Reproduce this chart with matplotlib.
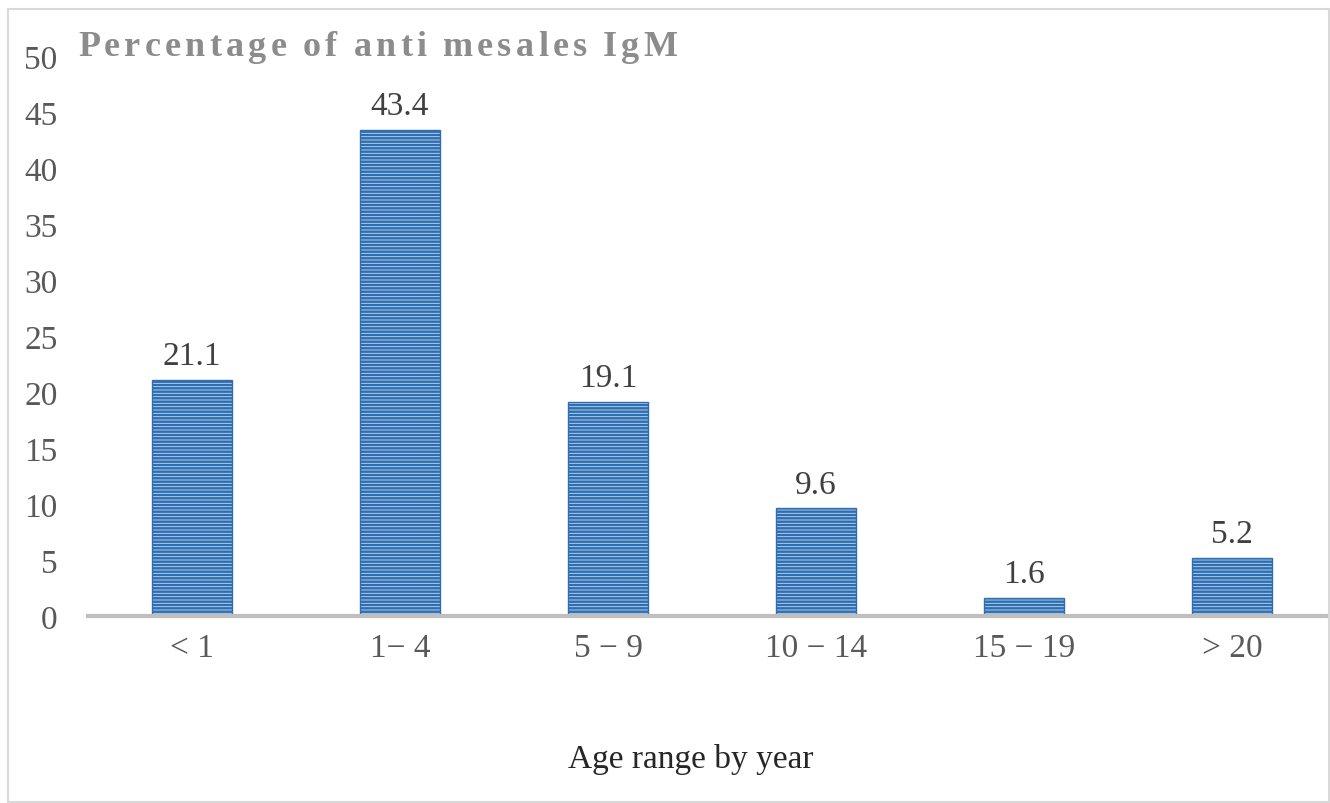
import matplotlib.pyplot as plt
from matplotlib.patches import Rectangle

# Anti-measles IgM positives by age group
age_groups = ["< 1", "1\u2212 4", "5 \u2212 9", "10 \u2212 14", "15 \u2212 19", "> 20"]
percent = [21.1, 43.4, 19.1, 9.6, 1.6, 5.2]
title = "Percentage of anti mesales IgM"

plt.rcParams['font.family'] = ['Liberation Serif', 'DejaVu Serif']
plt.rcParams['hatch.linewidth'] = 1.8

fig = plt.figure(figsize=(13.3, 8.04), dpi=100)
ax = fig.add_axes([88 / 1330, 1 - 617 / 804, 1 - 88 / 1330, (617 - 57) / 804])

x = range(len(percent))
bars = ax.bar(x, percent, width=0.385, color='#c2dbf3', edgecolor='#2f6fb0',
              hatch='-----', linewidth=1.0, zorder=2)
for xi, v in zip(x, percent):
    ax.text(xi, v + 0.8, "{:.1f}".format(v), ha='center', va='bottom',
            fontsize=24, color='#404040')

ax.set_xlim(-0.5, 5.47)
ax.set_ylim(0, 50)
ax.set_yticks(range(0, 51, 5))
ax.set_xticks(list(x))
ax.set_xticklabels(age_groups)
ax.tick_params(axis='both', length=0, labelsize=24, labelcolor='#595959')
ax.tick_params(axis='x', pad=12)
ax.tick_params(axis='y', pad=22)
for s in ['top', 'right', 'left']:
    ax.spines[s].set_visible(False)
ax.spines['bottom'].set_color('#bfbfbf')
ax.spines['bottom'].set_linewidth(3)
ax.patch.set_alpha(0)

# letter-spaced title, one character at a time
renderer = fig.canvas.get_renderer()
title_kw = dict(fontsize=26, fontweight='bold', color='#8c8c8c', ha='left', va='baseline')
x_px, y_px, gap = 78, 804 - 56, 4.2
for ch in title:
    t = fig.text(x_px / 1330, y_px / 804, ch, **title_kw)
    w = t.get_window_extent(renderer).width if ch != " " else 8
    x_px += w + gap

fig.text(691 / 1330, 1 - 760 / 804, "Age range by year", fontsize=24,
         color='#262626', ha='center', va='center')

fig.patches.append(Rectangle((8 / 1330, 0.001), 1 - 9 / 1330, 1 - 10 / 804 - 0.001,
                             transform=fig.transFigure, fill=False,
                             edgecolor='#d9d9d9', linewidth=1.5))

fig.savefig("out.png", dpi=100)
